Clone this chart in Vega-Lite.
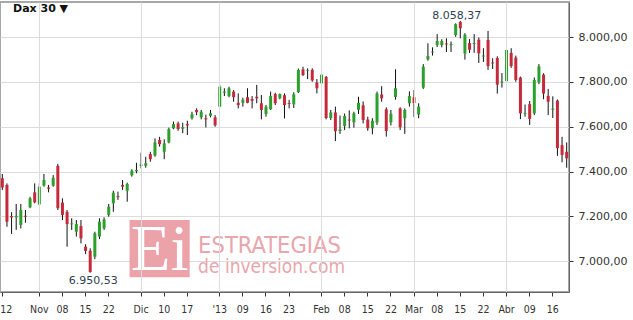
{
  "$schema": "https://vega.github.io/schema/vega-lite/v6.json",
  "width": 569,
  "height": 290,
  "autosize": {"type": "none"},
  "padding": {"left": 0, "top": 2, "right": 64, "bottom": 28},
  "background": "white",
  "config": {
    "view": {"stroke": "#a8a8a8", "strokeWidth": 2},
    "font": "DejaVu Sans",
    "axisY": {"gridColor": "#dcdcdc", "tickSize": 4, "tickColor": "#333333", "domainColor": "#666666", "labelFont": "DejaVu Sans", "labelFontSize": 11, "labelColor": "#333333", "labelPadding": 5}
  },
  "title": {"text": "Dax 30 ▼", "anchor": "start", "frame": "group", "dx": 13, "offset": -21, "baseline": "alphabetic", "fontSize": 11, "fontWeight": "bold", "color": "#111111", "font": "DejaVu Sans"},
  "datasets": {
    "ohlc": [
      {"d":"2012-10-22","o":7370,"h":7389,"l":7317,"c":7329},
      {"d":"2012-10-23","o":7340,"h":7347,"l":7153,"c":7176},
      {"d":"2012-10-24","o":7201,"h":7218,"l":7121,"c":7195},
      {"d":"2012-10-25","o":7195,"h":7255,"l":7139,"c":7201},
      {"d":"2012-10-26","o":7161,"h":7255,"l":7146,"c":7228},
      {"d":"2012-10-29","o":7202,"h":7228,"l":7171,"c":7198},
      {"d":"2012-10-30","o":7240,"h":7287,"l":7236,"c":7280},
      {"d":"2012-10-31","o":7307,"h":7347,"l":7258,"c":7262},
      {"d":"2012-11-01","o":7253,"h":7347,"l":7250,"c":7332},
      {"d":"2012-11-02","o":7337,"h":7389,"l":7332,"c":7362},
      {"d":"2012-11-05","o":7329,"h":7340,"l":7307,"c":7323},
      {"d":"2012-11-06","o":7337,"h":7384,"l":7332,"c":7372},
      {"d":"2012-11-07","o":7425,"h":7434,"l":7228,"c":7236},
      {"d":"2012-11-08","o":7261,"h":7280,"l":7183,"c":7206},
      {"d":"2012-11-09","o":7220,"h":7228,"l":7064,"c":7165},
      {"d":"2012-11-12","o":7164,"h":7191,"l":7139,"c":7168},
      {"d":"2012-11-13","o":7131,"h":7183,"l":7109,"c":7165},
      {"d":"2012-11-14","o":7156,"h":7183,"l":7079,"c":7101},
      {"d":"2012-11-15","o":7064,"h":7075,"l":7031,"c":7045},
      {"d":"2012-11-16","o":7046,"h":7057,"l":6948,"c":6950.53},
      {"d":"2012-11-19","o":7019,"h":7131,"l":7008,"c":7124},
      {"d":"2012-11-20","o":7109,"h":7191,"l":7098,"c":7176},
      {"d":"2012-11-21","o":7146,"h":7195,"l":7139,"c":7186},
      {"d":"2012-11-22","o":7206,"h":7255,"l":7198,"c":7243},
      {"d":"2012-11-23","o":7258,"h":7314,"l":7220,"c":7305},
      {"d":"2012-11-26","o":7290,"h":7310,"l":7273,"c":7285},
      {"d":"2012-11-27","o":7340,"h":7362,"l":7317,"c":7332},
      {"d":"2012-11-28","o":7314,"h":7350,"l":7265,"c":7344},
      {"d":"2012-11-29","o":7383,"h":7410,"l":7377,"c":7404},
      {"d":"2012-11-30","o":7401,"h":7439,"l":7392,"c":7407},
      {"d":"2012-12-03","o":7425,"h":7484,"l":7414,"c":7432},
      {"d":"2012-12-04","o":7426,"h":7466,"l":7417,"c":7437},
      {"d":"2012-12-05","o":7478,"h":7488,"l":7444,"c":7455},
      {"d":"2012-12-06","o":7471,"h":7548,"l":7466,"c":7530},
      {"d":"2012-12-07","o":7541,"h":7555,"l":7511,"c":7522},
      {"d":"2012-12-10","o":7488,"h":7544,"l":7455,"c":7526},
      {"d":"2012-12-11","o":7530,"h":7596,"l":7526,"c":7589},
      {"d":"2012-12-12","o":7593,"h":7623,"l":7589,"c":7612},
      {"d":"2012-12-13","o":7615,"h":7623,"l":7582,"c":7590},
      {"d":"2012-12-14","o":7591,"h":7618,"l":7571,"c":7598},
      {"d":"2012-12-17","o":7612,"h":7627,"l":7563,"c":7606},
      {"d":"2012-12-18","o":7638,"h":7667,"l":7632,"c":7656},
      {"d":"2012-12-19","o":7675,"h":7682,"l":7652,"c":7665},
      {"d":"2012-12-20","o":7642,"h":7675,"l":7633,"c":7667},
      {"d":"2012-12-21","o":7638,"h":7654,"l":7597,"c":7633},
      {"d":"2012-12-27","o":7649,"h":7675,"l":7642,"c":7660},
      {"d":"2012-12-28","o":7642,"h":7652,"l":7600,"c":7606},
      {"d":"2013-01-02","o":7690,"h":7787,"l":7687,"c":7779},
      {"d":"2013-01-03","o":7752,"h":7772,"l":7737,"c":7757},
      {"d":"2013-01-04","o":7737,"h":7779,"l":7732,"c":7772},
      {"d":"2013-01-07","o":7757,"h":7764,"l":7712,"c":7732},
      {"d":"2013-01-08","o":7707,"h":7749,"l":7682,"c":7697},
      {"d":"2013-01-09","o":7707,"h":7730,"l":7690,"c":7720},
      {"d":"2013-01-10","o":7732,"h":7772,"l":7705,"c":7707},
      {"d":"2013-01-11","o":7724,"h":7737,"l":7682,"c":7716},
      {"d":"2013-01-14","o":7734,"h":7787,"l":7705,"c":7727},
      {"d":"2013-01-15","o":7705,"h":7742,"l":7633,"c":7675},
      {"d":"2013-01-16","o":7657,"h":7697,"l":7645,"c":7690},
      {"d":"2013-01-17","o":7678,"h":7757,"l":7675,"c":7737},
      {"d":"2013-01-18","o":7746,"h":7752,"l":7697,"c":7705},
      {"d":"2013-01-21","o":7727,"h":7749,"l":7723,"c":7746},
      {"d":"2013-01-22","o":7741,"h":7749,"l":7637,"c":7697},
      {"d":"2013-01-23","o":7706,"h":7720,"l":7682,"c":7702},
      {"d":"2013-01-24","o":7700,"h":7754,"l":7684,"c":7745},
      {"d":"2013-01-25","o":7755,"h":7860,"l":7751,"c":7854},
      {"d":"2013-01-28","o":7856,"h":7868,"l":7827,"c":7831},
      {"d":"2013-01-29","o":7849,"h":7861,"l":7813,"c":7852},
      {"d":"2013-01-30","o":7854,"h":7861,"l":7801,"c":7807},
      {"d":"2013-01-31","o":7798,"h":7813,"l":7749,"c":7772},
      {"d":"2013-02-01","o":7794,"h":7849,"l":7778,"c":7833},
      {"d":"2013-02-04","o":7822,"h":7827,"l":7633,"c":7639},
      {"d":"2013-02-05","o":7639,"h":7675,"l":7630,"c":7664},
      {"d":"2013-02-06","o":7664,"h":7690,"l":7536,"c":7580},
      {"d":"2013-02-07","o":7581,"h":7650,"l":7568,"c":7588},
      {"d":"2013-02-08","o":7603,"h":7659,"l":7585,"c":7648},
      {"d":"2013-02-11","o":7632,"h":7673,"l":7593,"c":7628},
      {"d":"2013-02-12","o":7620,"h":7667,"l":7596,"c":7660},
      {"d":"2013-02-13","o":7676,"h":7734,"l":7657,"c":7707},
      {"d":"2013-02-14","o":7696,"h":7713,"l":7615,"c":7630},
      {"d":"2013-02-15","o":7632,"h":7645,"l":7582,"c":7593},
      {"d":"2013-02-18","o":7593,"h":7638,"l":7566,"c":7627},
      {"d":"2013-02-19","o":7619,"h":7757,"l":7608,"c":7749},
      {"d":"2013-02-20","o":7744,"h":7781,"l":7712,"c":7727},
      {"d":"2013-02-21","o":7678,"h":7687,"l":7556,"c":7581},
      {"d":"2013-02-22","o":7620,"h":7675,"l":7606,"c":7658},
      {"d":"2013-02-25","o":7733,"h":7857,"l":7721,"c":7772},
      {"d":"2013-02-26","o":7682,"h":7687,"l":7585,"c":7598},
      {"d":"2013-02-27","o":7638,"h":7682,"l":7568,"c":7675},
      {"d":"2013-02-28","o":7705,"h":7758,"l":7690,"c":7737},
      {"d":"2013-03-01","o":7732,"h":7764,"l":7644,"c":7706},
      {"d":"2013-03-04","o":7655,"h":7705,"l":7638,"c":7690},
      {"d":"2013-03-05","o":7775,"h":7880,"l":7769,"c":7869},
      {"d":"2013-03-06","o":7901,"h":7973,"l":7895,"c":7916},
      {"d":"2013-03-07","o":7932,"h":7955,"l":7918,"c":7936},
      {"d":"2013-03-08","o":7965,"h":8014,"l":7956,"c":7983},
      {"d":"2013-03-11","o":7965,"h":7991,"l":7955,"c":7983},
      {"d":"2013-03-12","o":7972,"h":7995,"l":7934,"c":7968},
      {"d":"2013-03-13","o":7965,"h":7981,"l":7934,"c":7970},
      {"d":"2013-03-14","o":8010,"h":8062,"l":8002,"c":8058.37},
      {"d":"2013-03-15","o":8068,"h":8073,"l":7995,"c":8040},
      {"d":"2013-03-18","o":7927,"h":8018,"l":7900,"c":8012},
      {"d":"2013-03-19","o":7974,"h":7992,"l":7930,"c":7944},
      {"d":"2013-03-20","o":7970,"h":8014,"l":7930,"c":7974},
      {"d":"2013-03-21","o":7989,"h":7999,"l":7885,"c":7928},
      {"d":"2013-03-22","o":7914,"h":7951,"l":7889,"c":7918},
      {"d":"2013-03-25","o":7988,"h":8028,"l":7854,"c":7871},
      {"d":"2013-03-26","o":7887,"h":7906,"l":7858,"c":7883},
      {"d":"2013-03-27","o":7907,"h":7915,"l":7748,"c":7788},
      {"d":"2013-03-28","o":7798,"h":7840,"l":7775,"c":7802},
      {"d":"2013-04-02","o":7804,"h":7950,"l":7798,"c":7943},
      {"d":"2013-04-03","o":7930,"h":7951,"l":7863,"c":7871},
      {"d":"2013-04-04","o":7909,"h":7918,"l":7801,"c":7809},
      {"d":"2013-04-05","o":7820,"h":7824,"l":7634,"c":7660},
      {"d":"2013-04-08","o":7658,"h":7699,"l":7645,"c":7662},
      {"d":"2013-04-09","o":7701,"h":7715,"l":7608,"c":7635},
      {"d":"2013-04-10","o":7660,"h":7820,"l":7652,"c":7809},
      {"d":"2013-04-11","o":7799,"h":7880,"l":7790,"c":7870},
      {"d":"2013-04-12","o":7833,"h":7839,"l":7723,"c":7748},
      {"d":"2013-04-15","o":7738,"h":7769,"l":7652,"c":7712},
      {"d":"2013-04-16","o":7676,"h":7736,"l":7639,"c":7681},
      {"d":"2013-04-17","o":7717,"h":7722,"l":7470,"c":7504},
      {"d":"2013-04-18","o":7518,"h":7555,"l":7441,"c":7474},
      {"d":"2013-04-19","o":7488,"h":7530,"l":7417,"c":7459}
    ]
  },
  "data": {"name": "ohlc"},
  "encoding": {
    "x": {
      "field": "d",
      "type": "ordinal",
      "scale": {"type": "band", "paddingInner": 0, "paddingOuter": 0},
      "axis": {
        "values": ["2012-10-22","2012-11-01","2012-11-08","2012-11-15","2012-11-22","2012-12-03","2012-12-10","2012-12-17","2013-01-02","2013-01-09","2013-01-16","2013-01-23","2013-02-01","2013-02-08","2013-02-15","2013-02-22","2013-03-01","2013-03-08","2013-03-15","2013-03-22","2013-04-02","2013-04-09","2013-04-16"],
        "labelExpr": "datum.value == '2012-11-01' ? 'Nov' : datum.value == '2012-12-03' ? 'Dic' : datum.value == '2013-01-02' ? \"'13\" : datum.value == '2013-02-01' ? 'Feb' : datum.value == '2013-03-01' ? 'Mar' : datum.value == '2013-04-02' ? 'Abr' : datum.value == '2012-10-22' ? '12' : substring(datum.value, 8, 10)",
        "labelAngle": 0,
        "title": null,
        "grid": true,
        "gridColor": "#dcdcdc",
        "gridOpacity": {"condition": {"test": "indexof(['2012-11-01','2012-12-03','2013-01-02','2013-02-01','2013-03-01','2013-04-02'], datum.value) >= 0", "value": 1}, "value": 0},
        "labelAlign": {"condition": {"test": "datum.value == '2012-10-22'", "value": "left"}, "value": "center"},
        "labelOffset": {"condition": {"test": "datum.value == '2012-10-22'", "value": -2}, "value": 0},
        "tickSize": 4,
        "tickColor": "#333333",
        "domainColor": "#666666",
        "labelFont": "DejaVu Sans Condensed",
        "labelFontSize": 10.5,
        "labelColor": "#333333",
        "labelPadding": 8,
        "labelOverlap": false,
        "labelFlush": false,
        "labelBound": false
      }
    }
  },
  "layer": [
    {
      "data": {"values": [{"x1": "2012-11-29", "x2": "2012-12-18", "y1": 7183.3, "y2": 6927.2}]},
      "mark": {"type": "rect", "color": "#eba2a9"},
      "encoding": {
        "x": {"field": "x1", "type": "ordinal", "bandPosition": 0},
        "x2": {"field": "x2", "bandPosition": 0},
        "y": {"field": "y1", "type": "quantitative", "scale": {"domain": [6861.5, 8157.5], "nice": false, "zero": false}, "axis": {"orient": "right", "values": [7000, 7200, 7400, 7600, 7800, 8000], "labelExpr": "floor(datum.value/1000) + '.' + format(datum.value % 1000, '03d') + ',00'", "title": null, "grid": true}},
        "y2": {"field": "y2"}
      }
    },
    {
      "data": {"values": [{"d": "2012-12-07", "v": 6960, "t": "Ei"}]},
      "mark": {"type": "text", "font": "Liberation Serif", "fontSize": 65, "color": "white", "baseline": "alphabetic", "align": "center"},
      "encoding": {
        "y": {"field": "v", "type": "quantitative", "scale": {"domain": [6861.5, 8157.5], "nice": false, "zero": false}, "axis": {"orient": "right", "values": [7000, 7200, 7400, 7600, 7800, 8000], "labelExpr": "floor(datum.value/1000) + '.' + format(datum.value % 1000, '03d') + ',00'", "title": null, "grid": true}},
        "text": {"field": "t"}
      }
    },
    {
      "data": {"values": [{"d": "2012-12-19", "v": 7037, "t": "ESTRATEGIAS"}]},
      "mark": {"type": "text", "font": "DejaVu Sans Condensed", "fontSize": 23.5, "color": "#e9a6ad", "baseline": "alphabetic", "align": "left", "dx": 1.5},
      "encoding": {
        "y": {"field": "v", "type": "quantitative", "scale": {"domain": [6861.5, 8157.5], "nice": false, "zero": false}, "axis": {"orient": "right", "values": [7000, 7200, 7400, 7600, 7800, 8000], "labelExpr": "floor(datum.value/1000) + '.' + format(datum.value % 1000, '03d') + ',00'", "title": null, "grid": true}},
        "text": {"field": "t"}
      }
    },
    {
      "data": {"values": [{"d": "2012-12-19", "v": 6948, "t": "de inversion.com"}]},
      "mark": {"type": "text", "font": "DejaVu Sans Condensed", "fontSize": 19, "color": "#e9a6ad", "baseline": "alphabetic", "align": "left", "dx": 1.5},
      "encoding": {
        "y": {"field": "v", "type": "quantitative", "scale": {"domain": [6861.5, 8157.5], "nice": false, "zero": false}, "axis": {"orient": "right", "values": [7000, 7200, 7400, 7600, 7800, 8000], "labelExpr": "floor(datum.value/1000) + '.' + format(datum.value % 1000, '03d') + ',00'", "title": null, "grid": true}},
        "text": {"field": "t"}
      }
    },
    {
      "mark": {"type": "rule", "color": "#111111", "strokeWidth": 1},
      "encoding": {
        "y": {"field": "l", "type": "quantitative", "scale": {"domain": [6861.5, 8157.5], "nice": false, "zero": false}, "axis": {"orient": "right", "values": [7000, 7200, 7400, 7600, 7800, 8000], "labelExpr": "floor(datum.value/1000) + '.' + format(datum.value % 1000, '03d') + ',00'", "title": null, "grid": true}},
        "y2": {"field": "h"}
      }
    },
    {
      "mark": {"type": "bar", "size": 3},
      "encoding": {
        "y": {"field": "o", "type": "quantitative", "scale": {"domain": [6861.5, 8157.5], "nice": false, "zero": false}, "axis": {"orient": "right", "values": [7000, 7200, 7400, 7600, 7800, 8000], "labelExpr": "floor(datum.value/1000) + '.' + format(datum.value % 1000, '03d') + ',00'", "title": null, "grid": true}},
        "y2": {"field": "c"},
        "color": {"condition": {"test": "datum.c >= datum.o", "value": "#2ca02c"}, "value": "#c62a3a"}
      }
    },
    {
      "data": {"values": [{"d": "2013-03-14", "v": 8058.37, "t": "8.058,37"}]},
      "mark": {"type": "text", "fontSize": 11, "color": "#2f3f4f", "font": "DejaVu Sans", "dy": -8, "dx": 1},
      "encoding": {
        "y": {"field": "v", "type": "quantitative", "scale": {"domain": [6861.5, 8157.5], "nice": false, "zero": false}, "axis": {"orient": "right", "values": [7000, 7200, 7400, 7600, 7800, 8000], "labelExpr": "floor(datum.value/1000) + '.' + format(datum.value % 1000, '03d') + ',00'", "title": null, "grid": true}},
        "text": {"field": "t"}
      }
    },
    {
      "data": {"values": [{"d": "2012-11-16", "v": 6950.53, "t": "6.950,53"}]},
      "mark": {"type": "text", "fontSize": 11, "color": "#2f3f4f", "font": "DejaVu Sans", "dy": 9, "dx": 3},
      "encoding": {
        "y": {"field": "v", "type": "quantitative", "scale": {"domain": [6861.5, 8157.5], "nice": false, "zero": false}, "axis": {"orient": "right", "values": [7000, 7200, 7400, 7600, 7800, 8000], "labelExpr": "floor(datum.value/1000) + '.' + format(datum.value % 1000, '03d') + ',00'", "title": null, "grid": true}},
        "text": {"field": "t"}
      }
    }
  ]
}
